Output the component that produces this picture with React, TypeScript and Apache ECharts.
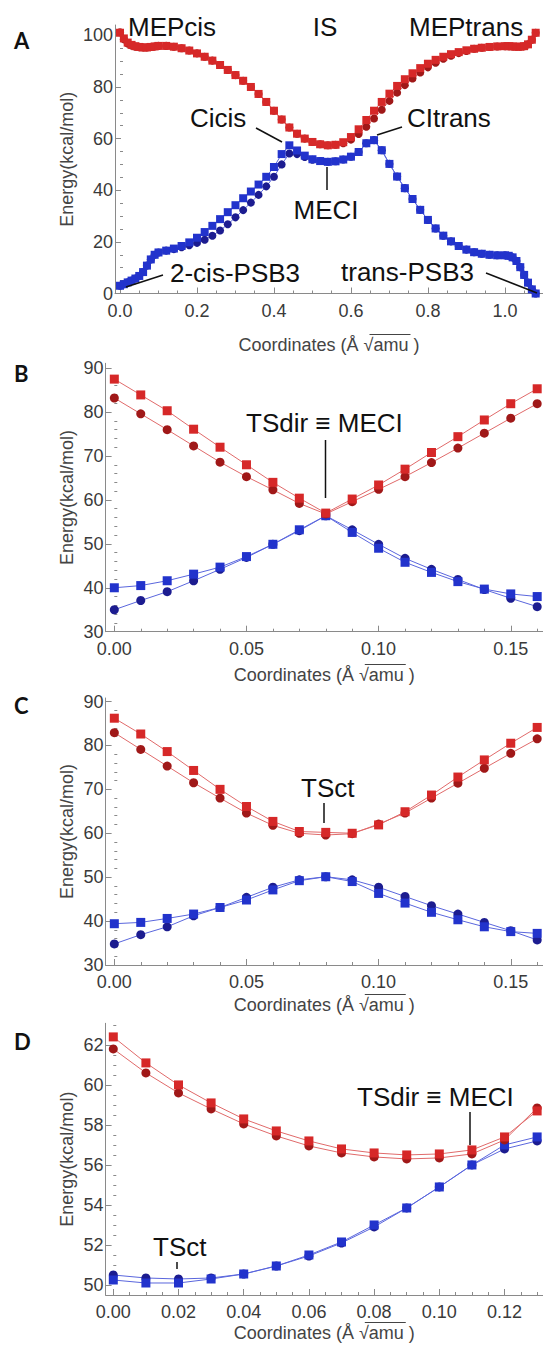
import React, { useEffect, useRef } from "react";
import * as echarts from "echarts";

// ---------- Panel A data ----------
const A_X = [0, 0.01, 0.02, 0.03, 0.04, 0.05, 0.06, 0.07, 0.08, 0.09, 0.10, 0.12, 0.14, 0.16, 0.18, 0.20, 0.22, 0.24, 0.26, 0.28, 0.30, 0.32, 0.34, 0.36, 0.38, 0.40, 0.42, 0.44, 0.46, 0.48, 0.50, 0.52, 0.54, 0.56, 0.58, 0.60, 0.62, 0.64, 0.66, 0.68, 0.70, 0.72, 0.74, 0.76, 0.78, 0.80, 0.82, 0.84, 0.86, 0.88, 0.90, 0.92, 0.94, 0.96, 0.98, 1.00, 1.01, 1.02, 1.03, 1.04, 1.05, 1.06, 1.07, 1.08];
const A_RED_SQ = [101.0, 98.8, 97.2, 96.3, 95.8, 95.5, 95.3, 95.3, 95.5, 95.7, 95.9, 95.9, 95.6, 95.0, 94.1, 93.0, 91.7, 90.2, 88.5, 86.6, 84.6, 82.4, 80.0, 77.3, 74.2, 70.8, 67.4, 64.3, 61.9, 60.0, 58.7, 57.8, 57.4, 57.6, 58.6, 60.6, 63.6, 67.2, 70.8, 74.2, 77.4, 80.4, 83.0, 85.3, 87.3, 89.0, 90.5, 91.7, 92.7, 93.5, 94.2, 94.8, 95.2, 95.5, 95.7, 95.8, 95.8, 95.7, 95.6, 95.6, 95.8, 96.5, 98.3, 101.0];
const A_RED_CI = [101.2, 98.5, 96.8, 96.0, 95.6, 95.4, 95.3, 95.3, 95.5, 95.7, 95.9, 95.9, 95.6, 95.0, 94.1, 93.0, 91.7, 90.2, 88.5, 86.6, 84.6, 82.4, 80.0, 77.3, 74.2, 70.8, 67.4, 64.3, 61.9, 60.0, 58.7, 57.8, 57.4, 57.6, 58.2, 59.6, 61.8, 64.6, 67.8, 71.2, 74.6, 77.8, 80.7, 83.3, 85.6, 87.6, 89.4, 90.9, 92.1, 93.1, 93.9, 94.8, 95.2, 95.5, 95.7, 95.8, 95.8, 95.7, 95.6, 95.6, 95.8, 96.5, 98.3, 101.0];
const A_BLUE_SQ = [3.0, 3.6, 4.3, 5.0, 5.8, 6.8, 8.3, 10.8, 13.2, 15.0, 15.9, 16.6, 17.4, 18.4, 19.8, 21.6, 23.8, 26.2, 28.8, 31.5, 34.2, 36.9, 39.5, 42.2, 45.2, 49.0, 54.0, 57.4, 55.4, 53.4, 52.0, 51.3, 51.0, 51.2, 51.9, 53.0, 54.8, 58.2, 59.4, 55.5, 50.2, 45.3, 40.8, 36.6, 32.4, 28.5, 25.2, 22.4, 20.2, 18.4, 17.0, 16.0, 15.4, 15.0, 14.8, 14.8, 14.6, 14.0, 12.6, 10.2, 7.2, 4.2, 1.6, 0.0];
const A_BLUE_CI = [3.0, 3.6, 4.3, 5.0, 5.8, 6.8, 8.3, 10.8, 13.2, 15.0, 15.9, 16.6, 17.2, 17.9, 18.7, 19.6, 20.8, 22.4, 24.4, 26.8, 29.5, 32.3, 35.2, 38.2, 41.5, 45.2, 50.0, 54.2, 54.0, 52.9, 51.8, 51.3, 51.0, 51.2, 51.9, 53.0, 54.8, 58.2, 59.4, 55.5, 50.2, 45.3, 40.8, 36.6, 32.4, 28.5, 25.2, 22.4, 20.2, 18.4, 17.0, 16.0, 15.4, 15.0, 14.8, 14.8, 14.6, 14.0, 12.6, 10.2, 7.2, 4.2, 1.6, 0.0];

// ---------- Panel B data ----------
const B_X = [0, 0.01, 0.02, 0.03, 0.04, 0.05, 0.06, 0.07, 0.08, 0.09, 0.10, 0.11, 0.12, 0.13, 0.14, 0.15, 0.16];
const B_RED_SQ = [87.5, 83.9, 80.3, 76.1, 72.0, 68.0, 64.0, 60.4, 57.0, 60.2, 63.4, 67.0, 70.8, 74.4, 78.2, 81.9, 85.3];
const B_RED_CI = [83.2, 79.6, 76.0, 72.3, 68.6, 65.3, 62.3, 59.2, 56.8, 59.6, 62.4, 65.3, 68.5, 71.8, 75.2, 78.6, 81.9];
const B_BLUE_SQ = [40.0, 40.5, 41.6, 43.1, 44.7, 47.1, 49.9, 53.2, 56.4, 52.6, 49.0, 45.8, 43.5, 41.4, 39.7, 38.6, 38.0];
const B_BLUE_CI = [35.0, 37.1, 39.1, 41.6, 44.2, 46.9, 49.9, 53.0, 56.4, 53.2, 49.9, 46.7, 44.2, 41.9, 39.6, 37.6, 35.7];

// ---------- Panel C data ----------
const C_X = [0, 0.01, 0.02, 0.03, 0.04, 0.05, 0.06, 0.07, 0.08, 0.09, 0.10, 0.11, 0.12, 0.13, 0.14, 0.15, 0.16];
const C_RED_SQ = [86.2, 82.6, 78.6, 74.3, 70.0, 66.1, 62.7, 60.4, 60.2, 60.0, 61.9, 64.9, 68.7, 72.8, 76.7, 80.5, 84.1];
const C_RED_CI = [82.9, 79.1, 75.3, 71.5, 68.0, 64.6, 61.8, 60.0, 59.6, 59.9, 62.1, 64.6, 68.0, 71.4, 74.8, 78.2, 81.5];
const C_BLUE_SQ = [39.4, 39.7, 40.6, 41.6, 43.1, 44.8, 47.1, 49.2, 50.1, 49.0, 46.3, 44.1, 42.0, 40.3, 38.7, 37.6, 37.2];
const C_BLUE_CI = [34.8, 36.9, 38.7, 41.2, 43.1, 45.4, 47.7, 49.4, 50.1, 49.4, 47.7, 45.6, 43.5, 41.6, 39.7, 37.8, 35.7];

// ---------- Panel D data ----------
const D_X = [0, 0.01, 0.02, 0.03, 0.04, 0.05, 0.06, 0.07, 0.08, 0.09, 0.10, 0.11, 0.12, 0.13];
const D_RED_SQ = [62.4, 61.1, 60.0, 59.1, 58.3, 57.7, 57.2, 56.8, 56.6, 56.5, 56.55, 56.75, 57.4, 58.7];
const D_RED_CI = [61.8, 60.6, 59.6, 58.8, 58.05, 57.45, 56.95, 56.6, 56.4, 56.3, 56.35, 56.55, 57.25, 58.85];
const D_BLUE_SQ = [50.25, 50.1, 50.1, 50.3, 50.55, 50.95, 51.5, 52.15, 53.0, 53.85, 54.9, 56.0, 57.0, 57.4];
const D_BLUE_CI = [50.5, 50.35, 50.3, 50.35, 50.55, 50.95, 51.45, 52.1, 52.9, 53.85, 54.9, 56.0, 56.8, 57.2];

// ---------- Ticks ----------
const A_X_TICKS = [0, 0.2, 0.4, 0.6, 0.8, 1.0];
const A_Y_TICKS = [0, 20, 40, 60, 80, 100];
const BC_X_TICKS = [0, 0.05, 0.1, 0.15];
const BC_Y_TICKS = [30, 40, 50, 60, 70, 80, 90];
const D_X_TICKS = [0, 0.02, 0.04, 0.06, 0.08, 0.1, 0.12];
const D_Y_TICKS = [50, 52, 54, 56, 58, 60, 62];

const FONT = "Arial, 'Liberation Sans', Helvetica, sans-serif";
const AXIS_COLOR = "#8a8a8a";
const LABEL_COLOR = "#3a3a3a";
const RED_SQ = "#d62828";
const RED_CI = "#a01818";
const BLUE_SQ = "#2233cc";
const BLUE_CI = "#1c1c90";
const RED_LINE = "#e06a6a";
const BLUE_LINE = "#5a66dd";

function minorTicks(from: number, to: number, step: number, majors: number[]) {
  const out: number[] = [];
  const n = Math.round((to - from) / step);
  for (let i = 0; i <= n; i++) {
    const v = +(from + i * step).toFixed(6);
    if (!majors.some((m) => Math.abs(m - v) < step / 10)) out.push(v);
  }
  return out;
}

type PanelCfg = {
  grid: { left: number; top: number; width: number; height: number };
  xMin: number; xMax: number; yMin: number; yMax: number;
  xTicks: number[]; yTicks: number[];
  xMinor: number[]; yMinor: number[];
  xDec: number; yDec: number;
  x: number[]; rs: number[]; rc: number[]; bs: number[]; bc: number[];
  sym: number;
};

const PANELS: PanelCfg[] = [
  {
    grid: { left: 115, top: 25, width: 428, height: 268.5 },
    xMin: -0.013, xMax: 1.099, yMin: 0, yMax: 104,
    xTicks: A_X_TICKS, yTicks: A_Y_TICKS,
    xMinor: minorTicks(0, 1.05, 0.05, A_X_TICKS), yMinor: minorTicks(0, 100, 5, A_Y_TICKS),
    xDec: 1, yDec: 0,
    x: A_X, rs: A_RED_SQ, rc: A_RED_CI, bs: A_BLUE_SQ, bc: A_BLUE_CI, sym: 8,
  },
  {
    grid: { left: 105.6, top: 363.3, width: 437.4, height: 268.4 },
    xMin: -0.0033, xMax: 0.1622, yMin: 30, yMax: 91.1,
    xTicks: BC_X_TICKS, yTicks: BC_Y_TICKS,
    xMinor: minorTicks(0, 0.16, 0.01, BC_X_TICKS), yMinor: minorTicks(30, 90, 2, BC_Y_TICKS),
    xDec: 2, yDec: 0,
    x: B_X, rs: B_RED_SQ, rc: B_RED_CI, bs: B_BLUE_SQ, bc: B_BLUE_CI, sym: 9,
  },
  {
    grid: { left: 105.6, top: 698, width: 437.4, height: 267 },
    xMin: -0.0033, xMax: 0.1622, yMin: 30, yMax: 90.8,
    xTicks: BC_X_TICKS, yTicks: BC_Y_TICKS,
    xMinor: minorTicks(0, 0.16, 0.01, BC_X_TICKS), yMinor: minorTicks(30, 90, 2, BC_Y_TICKS),
    xDec: 2, yDec: 0,
    x: C_X, rs: C_RED_SQ, rc: C_RED_CI, bs: C_BLUE_SQ, bc: C_BLUE_CI, sym: 9,
  },
  {
    grid: { left: 105.6, top: 1023.3, width: 437.4, height: 271.7 },
    xMin: -0.00236, xMax: 0.1318, yMin: 49.5, yMax: 63.08,
    xTicks: D_X_TICKS, yTicks: D_Y_TICKS,
    xMinor: minorTicks(0, 0.13, 0.005, D_X_TICKS), yMinor: minorTicks(49.5, 63, 0.5, D_Y_TICKS),
    xDec: 2, yDec: 0,
    x: D_X, rs: D_RED_SQ, rc: D_RED_CI, bs: D_BLUE_SQ, bc: D_BLUE_CI, sym: 9,
  },
];

const TITLE_FONT = 18;
const X_TITLE = "Coordinates (Å √amu )";
const Y_TITLE = "Energy(kcal/mol)";

function measure(text: string, size: number) {
  const c = document.createElement("canvas").getContext("2d")!;
  c.font = `${size}px Arial, 'Liberation Sans', sans-serif`;
  return c.measureText(text).width;
}

function buildOption() {
  const grids: any[] = [];
  const xAxes: any[] = [];
  const yAxes: any[] = [];
  const series: any[] = [];
  const graphic: any[] = [];

  PANELS.forEach((p, i) => {
    grids.push({ ...p.grid, containLabel: false });
    const lineStyle = { color: AXIS_COLOR, width: 1 };
    xAxes.push({
      type: "value", gridIndex: i, min: p.xMin, max: p.xMax, position: "bottom",
      axisLine: { show: true, onZero: false, lineStyle },
      axisTick: { show: true, inside: true, length: 6, customValues: p.xTicks, lineStyle },
      axisLabel: {
        customValues: p.xTicks, formatter: (v: number) => v.toFixed(p.xDec),
        fontSize: 18, lineHeight: 16, color: LABEL_COLOR, fontFamily: FONT, margin: 9,
      },
      splitLine: { show: false },
    });
    xAxes.push({
      type: "value", gridIndex: i, min: p.xMin, max: p.xMax, position: "bottom",
      axisLine: { show: false },
      axisTick: { show: true, inside: true, length: 3, customValues: p.xMinor, lineStyle },
      axisLabel: { show: false }, splitLine: { show: false },
    });
    yAxes.push({
      type: "value", gridIndex: i, min: p.yMin, max: p.yMax, position: "left",
      axisLine: { show: true, onZero: false, lineStyle },
      axisTick: { show: true, inside: true, length: 6, customValues: p.yTicks, lineStyle },
      axisLabel: {
        customValues: p.yTicks, formatter: (v: number) => v.toFixed(p.yDec),
        fontSize: 18, lineHeight: 15, color: LABEL_COLOR, fontFamily: FONT, margin: 2,
      },
      splitLine: { show: false },
    });
    yAxes.push({
      type: "value", gridIndex: i, min: p.yMin, max: p.yMax, position: "left",
      axisLine: { show: false },
      axisTick: { show: true, inside: true, length: 3, customValues: p.yMinor, lineStyle },
      axisLabel: { show: false }, splitLine: { show: false },
    });

    const mk = (ys: number[], sym: string, color: string, lineColor: string, z: number) => ({
      type: "line",
      xAxisIndex: i * 2,
      yAxisIndex: i * 2,
      data: p.x.map((x, k) => [x, ys[k]]),
      symbol: sym,
      symbolSize: p.sym,
      showSymbol: true,
      itemStyle: { color },
      lineStyle: { color: lineColor, width: 1 },
      z,
      silent: true,
    });
    series.push(mk(p.bc, "circle", BLUE_CI, BLUE_LINE, 2));
    series.push(mk(p.bs, "rect", BLUE_SQ, BLUE_LINE, 3));
    series.push(mk(p.rc, "circle", RED_CI, RED_LINE, 4));
    series.push(mk(p.rs, "rect", RED_SQ, RED_LINE, 5));

    // axis titles
    const cx = p.grid.left + p.grid.width / 2;
    const titleCy = [345, 675, 1005, 1333][i];
    const full = measure(X_TITLE, TITLE_FONT);
    const pre = measure("Coordinates (Å ", TITLE_FONT);
    const rad = measure("√", TITLE_FONT);
    const amu = measure("amu", TITLE_FONT);
    const left = cx - full / 2;
    graphic.push({
      type: "text", x: cx, y: titleCy,
      style: { text: X_TITLE, fontSize: TITLE_FONT, fontFamily: FONT, fill: "#444", align: "center", verticalAlign: "middle" },
    });
    graphic.push({
      type: "line",
      shape: { x1: left + pre + rad * 0.6, y1: titleCy - 10.5, x2: left + pre + rad + amu + 2, y2: titleCy - 10.5 },
      style: { stroke: "#444", lineWidth: 1 },
    });
    graphic.push({
      type: "text", x: 67, y: p.grid.top + p.grid.height / 2, rotation: Math.PI / 2,
      style: { text: Y_TITLE, fontSize: TITLE_FONT, fontFamily: FONT, fill: "#444", align: "center", verticalAlign: "middle" },
    });
  });

  // panel letters
  const letters = [["A", 40], ["B", 373], ["C", 705], ["D", 1041]] as const;
  letters.forEach(([t, y]) => {
    graphic.push({
      type: "text", x: 14, y,
      style: { text: t, fontSize: 22, fontWeight: "bold", fontFamily: "Lato, Arial, sans-serif", fill: "#111", align: "left", verticalAlign: "middle" },
    });
  });

  // annotations
  const ann = (text: string, x: number, y: number, align = "left") => ({
    type: "text", x, y, z: 100,
    style: { text, fontSize: 26, fontFamily: FONT, fill: "#111", align, verticalAlign: "middle" },
  });
  const ln = (x1: number, y1: number, x2: number, y2: number) => ({
    type: "line", z: 100, shape: { x1, y1, x2, y2 }, style: { stroke: "#111", lineWidth: 1.5 },
  });
  graphic.push(
    ann("MEPcis", 128, 27),
    ann("IS", 325, 27, "center"),
    ann("MEPtrans", 409, 27),
    ann("Cicis", 190, 118),
    ln(256, 128, 282, 142),
    ann("CItrans", 407, 118),
    ln(377, 135, 402, 127),
    ann("MECI", 326, 210, "center"),
    ln(327, 167, 327, 190),
    ann("2-cis-PSB3", 170, 273),
    ln(163, 275, 126, 287),
    ann("trans-PSB3", 341, 272),
    ln(486, 273, 537, 293),
    ann("TSdir ≡ MECI", 246, 423),
    ln(325.5, 440, 325.5, 498),
    ann("TSct", 301, 788),
    ln(324, 803, 324, 823),
    ann("TSdir ≡ MECI", 357, 1097),
    ln(470, 1112, 470, 1145),
    ann("TSct", 153, 1247),
    ln(177, 1262, 177, 1269),
  );

  return {
    animation: false,
    backgroundColor: "#ffffff",
    textStyle: { fontFamily: FONT },
    grid: grids,
    xAxis: xAxes,
    yAxis: yAxes,
    series,
    graphic,
  };
}

export default function App() {
  const ref = useRef<HTMLDivElement>(null);
  useEffect(() => {
    if (!ref.current) return;
    const chart = echarts.init(ref.current, null, { renderer: "svg" });
    chart.setOption(buildOption() as any);
    return () => chart.dispose();
  }, []);
  return (
    <div
      ref={ref}
      style={{ position: "absolute", left: 0, top: 0, width: 543, height: 1353, background: "#fff" }}
    />
  );
}
